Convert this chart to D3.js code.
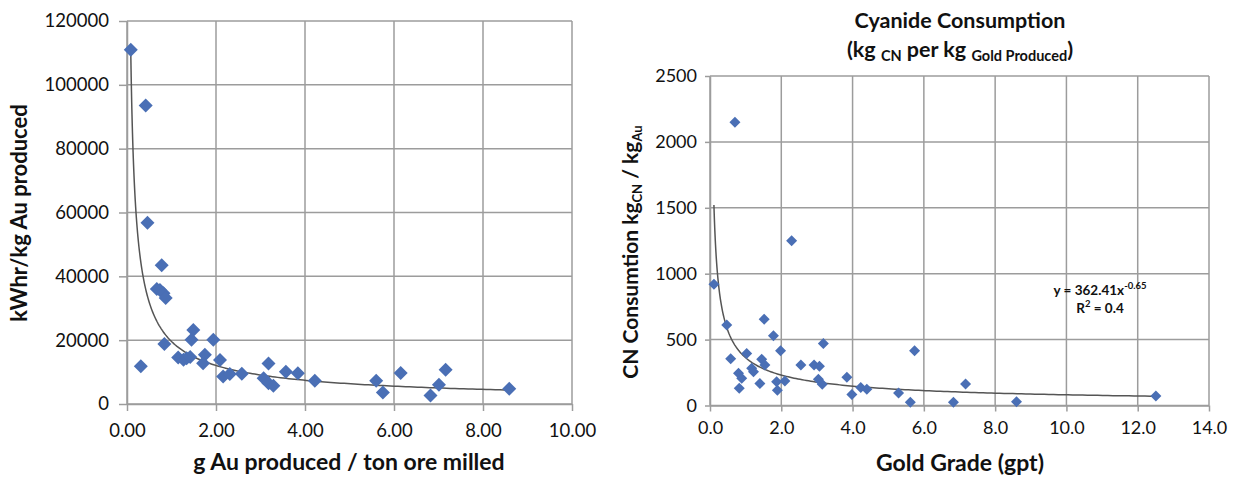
<!DOCTYPE html>
<html>
<head>
<meta charset="utf-8">
<script src="https://cdn.jsdelivr.net/npm/d3@7"></script>
<style>
  body { margin: 0; background: #fff; }
  svg text { font-family: Lato, "Open Sans", sans-serif; fill: #111; }
</style>
</head>
<body>
<svg id="chart" width="1235" height="478"></svg>
<script>
// ---- left panel: power per kg gold vs head grade ----
var kwhGrade = [0.085, 0.42, 0.46, 0.31, 0.78, 0.67, 0.74, 0.82, 0.87, 0.84,
  1.15, 1.27, 1.34, 1.42, 1.49, 1.45, 1.94, 1.75, 1.71, 2.09,
  2.16, 2.31, 2.58, 3.18, 3.07, 3.18, 3.29, 3.57, 3.84, 4.22,
  5.60, 5.75, 6.15, 7.16, 7.01, 6.82, 8.59];
var kwhPerKg = [111000, 93500, 56800, 11800, 43500, 36000, 35700, 34700, 33200, 18800,
  14600, 13900, 14300, 14700, 23200, 20100, 20100, 15400, 12800, 13800,
  8600, 9400, 9500, 12700, 8100, 6500, 5700, 10100, 9600, 7300,
  7300, 3600, 9700, 10700, 6000, 2700, 4800];
var kwhXTicks = [0, 2, 4, 6, 8, 10];
var kwhYTicks = [0, 20000, 40000, 60000, 80000, 100000, 120000];
var kwhTrend = [19600, -0.70];   // power trendline a*x^b

// ---- right panel: cyanide consumption vs gold grade ----
var cnGrade = [0.70, 2.29, 0.11, 0.47, 1.52, 1.78, 1.98, 3.18, 0.58, 1.03,
  1.45, 1.54, 1.17, 1.22, 0.80, 0.89, 0.82, 1.40, 1.87, 1.89,
  2.10, 2.55, 2.92, 3.07, 3.04, 3.15, 3.84, 3.98, 4.23, 4.40,
  5.29, 5.62, 5.74, 7.17, 6.83, 8.60, 12.51];
var cnPerKg = [2150, 1250, 920, 610, 655, 530, 416, 470, 355, 394,
  351, 308, 283, 257, 244, 207, 131, 166, 181, 115,
  185, 308, 308, 297, 199, 162, 214, 84, 137, 123,
  95, 25, 415, 163, 24, 29, 72];
var cnXTicks = [0, 2, 4, 6, 8, 10, 12, 14];
var cnYTicks = [0, 500, 1000, 1500, 2000, 2500];
var cnTrend = [362.41, -0.65];

var svg = d3.select('#chart');
var gridColor = '#9c9c9c';
var dotColor = '#4a6fb5';

/* ---------------------------------------------------------------*/
function drawPanel(p) {
  var x = d3.scaleLinear().domain(p.xDomain).range([p.left, p.right]);
  var y = d3.scaleLinear().domain(p.yDomain).range([p.bottom, p.top]);
  var g = svg.append('g');

  // grid
  g.selectAll('.vgrid').data(p.xTicks).enter().append('line')
    .attr('x1', d => x(d)).attr('x2', d => x(d))
    .attr('y1', p.top).attr('y2', p.bottom)
    .attr('stroke', gridColor).attr('stroke-width', 1.5);
  g.selectAll('.hgrid').data(p.yTicks).enter().append('line')
    .attr('x1', p.left).attr('x2', p.right)
    .attr('y1', d => y(d)).attr('y2', d => y(d))
    .attr('stroke', gridColor).attr('stroke-width', 1.5);

  var xAxis = g.append('g').attr('transform', 'translate(0,' + p.bottom + ')')
    .call(d3.axisBottom(x).tickValues(p.xTicks).tickFormat(p.xFormat)
      .tickSize(p.xTickLen).tickPadding(p.xPad).tickSizeOuter(0));
  var yAxis = g.append('g').attr('transform', 'translate(' + p.left + ',0)')
    .call(d3.axisLeft(y).tickValues(p.yTicks).tickFormat(p.yFormat)
      .tickSize(p.yTickLen).tickPadding(p.yPad).tickSizeOuter(0));
  [xAxis, yAxis].forEach(function (a) {
    a.select('.domain').attr('stroke', gridColor).attr('stroke-width', 1.5);
    a.selectAll('.tick line').attr('stroke', gridColor).attr('stroke-width', 1.5);
    a.selectAll('text').attr('font-size', p.tickFont).attr('font-family', null).attr('fill', '#111');
  });

  // trendline (power fit)
  var lo = d3.min(p.xs), hi = d3.max(p.xs);
  var pts = d3.range(0, 201).map(i => lo + (hi - lo) * Math.pow(i / 200, 2.5));
  g.append('path')
    .attr('d', d3.line().x(d => x(d)).y(d => y(p.trend[0] * Math.pow(d, p.trend[1])))(pts))
    .attr('fill', 'none').attr('stroke', '#555').attr('stroke-width', 1.5);

  // diamonds
  var sym = d3.symbol(d3.symbolSquare, p.dot * p.dot / 2);
  g.selectAll('.pt').data(p.xs).enter().append('path')
    .attr('d', sym)
    .attr('transform', (d, i) => 'translate(' + x(d) + ',' + y(p.ys[i]) + ') rotate(45)')
    .attr('fill', dotColor);
  return { x: x, y: y };
}

drawPanel({
  xs: kwhGrade, ys: kwhPerKg, xTicks: kwhXTicks, yTicks: kwhYTicks, trend: kwhTrend,
  xDomain: [0, 10], yDomain: [0, 120000],
  left: 127, right: 572, top: 21, bottom: 404,
  xFormat: d3.format('.2f'), yFormat: d3.format('d'),
  xTickLen: 7, xPad: 13, yTickLen: 8, yPad: 10, tickFont: '18.5px', dot: 14
});

drawPanel({
  xs: cnGrade, ys: cnPerKg, xTicks: cnXTicks, yTicks: cnYTicks, trend: cnTrend,
  xDomain: [0, 14], yDomain: [0, 2500],
  left: 710, right: 1209, top: 76, bottom: 405.5,
  xFormat: d3.format('.1f'), yFormat: d3.format('d'),
  xTickLen: 6, xPad: 10, yTickLen: 5, yPad: 8, tickFont: '18px', dot: 11
});

// ---- axis titles, left ----
svg.append('text').attr('x', 349).attr('y', 470).attr('text-anchor', 'middle')
  .attr('font-size', 23).attr('font-weight', 'bold').text('g Au produced / ton ore milled');
svg.append('text').attr('transform', 'translate(27,213) rotate(-90)').attr('text-anchor', 'middle')
  .attr('font-size', 22).attr('font-weight', 'bold').text('kWhr/kg Au produced');

// ---- right: title, axis titles, equation ----
svg.append('text').attr('x', 960).attr('y', 28).attr('text-anchor', 'middle')
  .attr('font-size', 21.5).attr('font-weight', 'bold').text('Cyanide Consumption');
var t2 = svg.append('text').attr('x', 960).attr('y', 57).attr('text-anchor', 'middle')
  .attr('font-size', 21.5).attr('font-weight', 'bold');
t2.append('tspan').text('(kg ');
t2.append('tspan').attr('font-size', 14.5).attr('dy', 4).text('CN');
t2.append('tspan').attr('dy', -4).text(' per kg ');
t2.append('tspan').attr('font-size', 14.5).attr('dy', 4).text('Gold Produced');
t2.append('tspan').attr('dy', -4).text(')');

svg.append('text').attr('x', 960).attr('y', 471).attr('text-anchor', 'middle')
  .attr('font-size', 23).attr('font-weight', 'bold').text('Gold Grade (gpt)');
var yt = svg.append('text').attr('transform', 'translate(638,252) rotate(-90)').attr('text-anchor', 'middle')
  .attr('font-size', 21).attr('font-weight', 'bold');
yt.append('tspan').text('CN Consumtion kg');
yt.append('tspan').attr('font-size', 13).attr('dy', 4).text('CN');
yt.append('tspan').attr('dy', -4).text(' / kg');
yt.append('tspan').attr('font-size', 13).attr('dy', 4).text('Au');

var eq = svg.append('text').attr('x', 1100).attr('y', 295).attr('text-anchor', 'middle')
  .attr('font-size', 13.5).attr('font-weight', 'bold');
eq.append('tspan').text('y = 362.41x');
eq.append('tspan').attr('font-size', 9.5).attr('dy', -6).text('-0.65');
var r2 = svg.append('text').attr('x', 1100).attr('y', 313).attr('text-anchor', 'middle')
  .attr('font-size', 13.5).attr('font-weight', 'bold');
r2.append('tspan').text('R');
r2.append('tspan').attr('font-size', 9.5).attr('dy', -6).text('2');
r2.append('tspan').attr('dy', 6).text(' = 0.4');
</script>
</body>
</html>
